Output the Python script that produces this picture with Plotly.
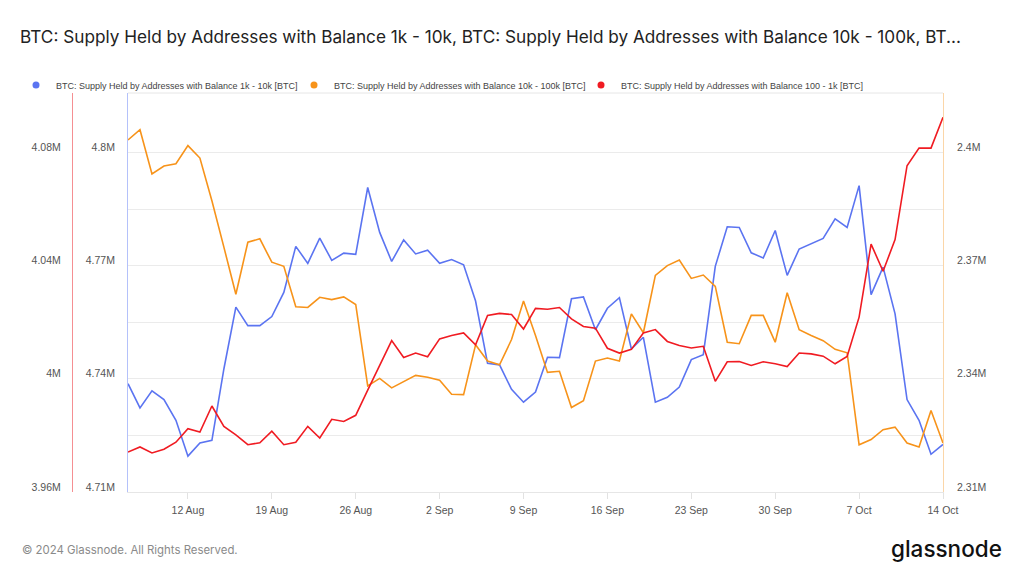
import numpy as np
import pandas as pd
import plotly.graph_objects as go

# ---------------- data (values in millions of BTC) ----------------
dates = pd.date_range("2024-08-07", "2024-10-14", freq="D")

supply_1k_10k = [
    4.7387, 4.7323, 4.7368, 4.7345, 4.7290, 4.7195, 4.7230, 4.7237, 4.7426, 4.7590,
    4.7541, 4.7541, 4.7565, 4.7629, 4.7751, 4.7706, 4.7773, 4.7714, 4.7733, 4.7730,
    4.7907, 4.7788, 4.7711, 4.7768, 4.7731, 4.7741, 4.7706, 4.7716, 4.7702, 4.7606,
    4.7441, 4.7437, 4.7372, 4.7338, 4.7365, 4.7457, 4.7456, 4.7612, 4.7617, 4.7530,
    4.7587, 4.7615, 4.7479, 4.7510, 4.7338, 4.7351, 4.7378, 4.7451, 4.7464, 4.7698,
    4.7803, 4.7801, 4.7734, 4.7720, 4.7793, 4.7674, 4.7744, 4.7757, 4.7772, 4.7824,
    4.7801, 4.7912, 4.7623, 4.7696, 4.7572, 4.7345, 4.7290, 4.7200, 4.7226,
]

supply_10k_100k = [
    2.4033, 2.4060, 2.3943, 2.3964, 2.3970, 2.4018, 2.3985, 2.3872, 2.3749, 2.3624,
    2.3762, 2.3771, 2.3709, 2.3698, 2.3591, 2.3589, 2.3616, 2.3610, 2.3617, 2.3597,
    2.3381, 2.3401, 2.3376, 2.3393, 2.3409, 2.3404, 2.3396, 2.3359, 2.3358, 2.3490,
    2.3447, 2.3437, 2.3504, 2.3606, 2.3515, 2.3417, 2.3420, 2.3324, 2.3342, 2.3447,
    2.3455, 2.3447, 2.3572, 2.3522, 2.3674, 2.3700, 2.3715, 2.3666, 2.3675, 2.3645,
    2.3497, 2.3493, 2.3568, 2.3568, 2.3497, 2.3628, 2.3530, 2.3515, 2.3501, 2.3478,
    2.3469, 2.3225, 2.3239, 2.3265, 2.3272, 2.3230, 2.3219, 2.3316, 2.3230,
]

supply_100_1k = [
    3.9741, 3.9759, 3.9738, 3.9751, 3.9776, 3.9824, 3.9812, 3.9904, 3.9832, 3.9802,
    3.9767, 3.9774, 3.9815, 3.9767, 3.9776, 3.9832, 3.9791, 3.9857, 3.9849, 3.9871,
    3.9960, 4.0046, 4.0135, 4.0075, 4.0091, 4.0078, 4.0141, 4.0153, 4.0162, 4.0120,
    4.0224, 4.0231, 4.0227, 4.0176, 4.0249, 4.0246, 4.0252, 4.0212, 4.0185, 4.0179,
    4.0108, 4.0091, 4.0104, 4.0162, 4.0174, 4.0132, 4.0118, 4.0109, 4.0115, 3.9991,
    4.0060, 4.0061, 4.0047, 4.0060, 4.0053, 4.0043, 4.0091, 4.0088, 4.0080, 4.0053,
    4.0079, 4.0218, 4.0476, 4.0380, 4.0492, 4.0753, 4.0815, 4.0815, 4.0924,
]

series_names = [
    "BTC: Supply Held by Addresses with Balance 1k - 10k [BTC]",
    "BTC: Supply Held by Addresses with Balance 10k - 100k [BTC]",
    "BTC: Supply Held by Addresses with Balance 100 - 1k [BTC]",
]

blue_ticks = [4.71, 4.725, 4.74, 4.755, 4.77, 4.785, 4.80]
blue_text = ["4.71M", "", "4.74M", "", "4.77M", "", "4.8M"]
orange_ticks = [2.31, 2.34, 2.37, 2.40]
orange_text = ["2.31M", "2.34M", "2.37M", "2.4M"]
red_ticks = [3.96, 4.00, 4.04, 4.08]
red_text = ["3.96M", "4M", "4.04M", "4.08M"]

title_text = ("BTC: Supply Held by Addresses with Balance 1k - 10k, "
              "BTC: Supply Held by Addresses with Balance 10k - 100k, BT...")

# ---------------- styling ----------------
BLUE = "#5b74f1"
ORANGE = "#f7931a"
RED = "#f01b22"
TICK_FONT = dict(family="Liberation Sans, Arial, sans-serif", size=10.5, color="#555555")

W, H = 1024, 576
L, R, T, B = 40, 81, 93, 84
pw = W - L - R
dom0 = (128 - L) / pw
red_pos = (72 - L) / pw
ph = H - T - B
span_frac = ph / 339.6  # pixels per 0.09M (blue/orange) or 0.12M (red)

fig = go.Figure()

fig.add_trace(go.Scatter(x=dates, y=np.array(supply_1k_10k) * 1e6, yaxis="y",
                         mode="lines", line=dict(color=BLUE, width=1.6),
                         name=series_names[0], showlegend=False))
fig.add_trace(go.Scatter(x=dates, y=np.array(supply_10k_100k) * 1e6, yaxis="y2",
                         mode="lines", line=dict(color=ORANGE, width=1.6),
                         name=series_names[1], showlegend=False))
fig.add_trace(go.Scatter(x=dates, y=np.array(supply_100_1k) * 1e6, yaxis="y3",
                         mode="lines", line=dict(color=RED, width=1.6),
                         name=series_names[2], showlegend=False))

# legend entries (dot markers)
for i, (nm, col) in enumerate(zip(series_names, [BLUE, ORANGE, RED])):
    fig.add_trace(go.Scatter(x=[None], y=[None], mode="markers",
                             marker=dict(color=col, size=7),
                             name=nm, legend=["legend", "legend2", "legend3"][i]))

leg_common = dict(xref="container", yref="container", y=1 - 85 / H, yanchor="middle",
                  orientation="h", bgcolor="rgba(0,0,0,0)", borderwidth=0,
                  font=dict(family="Liberation Sans, Arial, sans-serif", size=9, color="#444444"),
                  itemclick=False)

fig.update_layout(
    width=W, height=H,
    margin=dict(l=L, r=R, t=T, b=B, pad=0, autoexpand=False),
    paper_bgcolor="white", plot_bgcolor="white",
    title=dict(text=title_text, x=20 / W, xanchor="left", xref="container",
               y=1 - 37 / H, yanchor="middle", yref="container",
               font=dict(family="Inter, sans-serif", size=17.2, color="#222222")),
    legend=dict(x=16 / W, xanchor="left", **leg_common),
    legend2=dict(x=294 / W, xanchor="left", **leg_common),
    legend3=dict(x=581 / W, xanchor="left", **leg_common),
    xaxis=dict(domain=[dom0, 1], type="date",
               range=[dates[0], dates[-1]],
               tick0="2024-08-12", dtick=7 * 86400000, tickformat="%-d %b",
               showgrid=False, zeroline=False,
               ticks="outside", ticklen=6, tickcolor="#e2e2e2",
               showline=True, linecolor="#e6e6e6", linewidth=1,
               ticklabelstandoff=2,
               tickfont=TICK_FONT),
    yaxis=dict(range=[4.71e6, 4.71e6 + 0.09e6 * span_frac],
               tickvals=[v * 1e6 for v in blue_ticks], ticktext=blue_text,
               showgrid=True, gridcolor="#ebebeb", gridwidth=1, zeroline=False,
               showline=True, linecolor="#b4c1fa", linewidth=1,
               ticks="", ticklabelstandoff=10, ticklabelshift=-5,
               tickfont=TICK_FONT),
    yaxis2=dict(range=[2.31e6, 2.31e6 + 0.09e6 * span_frac],
                overlaying="y", side="right", anchor="x",
                tickvals=[v * 1e6 for v in orange_ticks], ticktext=orange_text,
                showgrid=False, zeroline=False,
                showline=True, linecolor="#fbd6a8", linewidth=1,
                ticks="", ticklabelstandoff=11, ticklabelshift=-5,
                tickfont=TICK_FONT),
    yaxis3=dict(range=[3.96e6, 3.96e6 + 0.12e6 * span_frac],
                overlaying="y", side="left", anchor="free", position=red_pos,
                tickvals=[v * 1e6 for v in red_ticks], ticktext=red_text,
                showgrid=False, zeroline=False,
                showline=True, linecolor="#f58f92", linewidth=1.2,
                ticks="", ticklabelstandoff=9, ticklabelshift=-5,
                tickfont=TICK_FONT),
    hovermode=False,
)

# top border of plot area
fig.add_shape(type="line", xref="x domain", yref="y domain", x0=0, x1=1, y0=1, y1=1,
              line=dict(color="#e6e6e6", width=1))

# footer
fig.add_annotation(text="© 2024 Glassnode. All Rights Reserved.", xref="paper", yref="paper",
                   x=(20 - L) / pw, xanchor="left", y=-(550 - (T + ph)) / ph, yanchor="middle",
                   showarrow=False,
                   font=dict(family="Inter, sans-serif", size=11.4, color="#8a8a8a"))
fig.add_annotation(text="glassnode", xref="paper", yref="paper",
                   x=(1004 - L) / pw, xanchor="right", y=-(548 - (T + ph)) / ph, yanchor="middle",
                   showarrow=False,
                   font=dict(family="Inter, sans-serif", size=22.5, color="#111111", weight=500))

fig.write_html("out.html", config={"displayModeBar": False},
               post_script="document.body.style.margin='0';document.body.style.overflow='hidden';")
